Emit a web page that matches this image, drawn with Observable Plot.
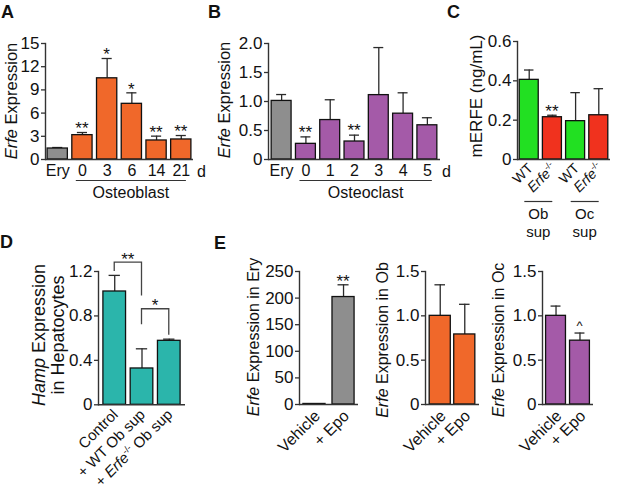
<!DOCTYPE html>
<html><head><meta charset="utf-8">
<script src="https://cdn.jsdelivr.net/npm/d3@7"></script>
<script src="https://cdn.jsdelivr.net/npm/@observablehq/plot@0.6"></script>
<style>
body{margin:0;background:#fff;}
#fig{position:relative;width:617px;height:493px;overflow:hidden;background:#fff;}
#fig svg{position:absolute;overflow:visible;}
</style></head><body><div id="fig"></div>
<script>
// ---------------- data ----------------
const panelLetters = ["A", "B", "C", "D", "E"];

const aCats = ["Ery", "0", "3", "6", "14", "21"];
const aMean = [1.42, 3.15, 10.5, 7.2, 2.46, 2.59];
const aErr  = [1.55, 3.49, 13.06, 8.62, 3.02, 3.1];
const aSig  = ["", "**", "*", "*", "**", "**"];
const aTicks = [0, 3, 6, 9, 12, 15];
const aGroup = "Osteoblast";

const bCats = ["Ery", "0", "1", "2", "3", "4", "5"];
const bMean = [1.01, 0.27, 0.68, 0.31, 1.11, 0.79, 0.59];
const bErr  = [1.12, 0.39, 1.03, 0.42, 1.93, 1.15, 0.72];
const bSig  = ["", "**", "", "**", "", "", ""];
const bTicks = [0, 0.5, 1.0, 1.5, 2.0];
const bGroup = "Osteoclast";
const dayUnit = "d";

const cGenotype = ["WT", "Erfe-/-", "WT", "Erfe-/-"];
const cSource = ["Ob", "Ob", "Oc", "Oc"];
const cMean = [0.405, 0.215, 0.195, 0.225];
const cErr  = [0.455, 0.225, 0.34, 0.36];
const cSig  = ["", "**", "", ""];
const cTicks = [0, 0.2, 0.4, 0.6];
const cSourceLabels = [["Ob", "sup"], ["Oc", "sup"]];

const dCats = ["Control", "+ WT Ob sup", "+ Erfe-/- Ob sup"];
const dMean = [1.02, 0.327, 0.576];
const dErr  = [1.165, 0.504, 0.591];
const dTicks = [0, 0.4, 0.8, 1.2];
const dBracketFrom = [0, 1];
const dBracketTo = [1, 2];
const dBracketTop = [1.28, 0.86];
const dBracketFromEnd = [1.2, 0.72];
const dBracketToEnd = [0.98, 0.625];
const dBracketSig = ["**", "*"];

const eCats = ["Vehicle", "+ Epo"];
const e1Mean = [1, 202];
const e1Err  = [1, 225];
const e1Sig  = ["", "**"];
const e1Ticks = [0, 50, 100, 150, 200, 250];
const e2Mean = [1.0, 0.79];
const e2Err  = [1.35, 1.13];
const e2Sig  = ["", ""];
const e3Mean = [1.0, 0.72];
const e3Err  = [1.11, 0.806];
const e3Sig  = ["", "^"];
const eTicks = [0, 0.5, 1.0, 1.5];

const yLabelA = "Erfe Expression";
const yLabelB = "Erfe Expression";
const yLabelC = "mERFE (ng/mL)";
const yLabelD = ["Hamp Expression", "in Hepatocytes"];
const yLabelE = ["Erfe Expression in Ery", "Erfe Expression in Ob", "Erfe Expression in Oc"];

// ---------------- styles ----------------
const FONT = '"Liberation Sans", Arial, Helvetica, sans-serif';
const GRAY = "#8e8e8e", ORANGE = "#f0682a", PURPLE = "#a45aa8",
      GREEN = "#22e022", RED = "#f0321e", TEAL = "#2bb5ab";
const INK = "#2a2a2a";
const fig = document.getElementById("fig");

const fmt1 = d => d === 0 ? "0" : d.toFixed(1);
const fmt0 = d => String(d);

function panel(cfg) {
  const mL = 45, mR = 14, mT = 14, mB = 40;
  const W = cfg.fx1 - cfg.fx0 + mL + mR;
  const H = cfg.fy1 - cfg.fy0 + mT + mB;
  const n = cfg.keys.length;
  const step = (cfg.fx1 - cfg.fx0) / (n - cfg.pi + 2 * cfg.po);
  const cap = step * (1 - cfg.pi) * 0.25;
  const rows = cfg.keys.map((k, i) => ({k, mean: cfg.mean[i], err: cfg.err[i], fill: cfg.fill[i]}));
  const marks = [
    Plot.ruleX(rows, {x: "k", y1: "mean", y2: "err", stroke: INK, strokeWidth: 1.3}),
    Plot.tickY(rows, {x: "k", y: "err", stroke: INK, strokeWidth: 1.3, insetLeft: cap, insetRight: cap}),
    Plot.barY(rows, {x: "k", y: "mean", fill: "fill", stroke: "#111", strokeWidth: 1.3}),
    Plot.axisY({ticks: cfg.ticks, tickFormat: cfg.fmt, tickSize: 4, tickPadding: 2, fontSize: 17, label: null, stroke: "#333", strokeWidth: 1.3}),
    Plot.ruleY([0], {stroke: "#333", strokeWidth: 1.4}),
    Plot.frame({anchor: "left", stroke: "#333", strokeWidth: 1.4})
  ];
  if (cfg.xTicks) marks.push(Plot.axisX({tickSize: 0, tickPadding: 5, fontSize: 16, label: null}));
  const plot = Plot.plot({
    width: W, height: H, marginLeft: mL, marginRight: mR, marginTop: mT, marginBottom: mB,
    style: {fontFamily: FONT, fontSize: "17px", background: "transparent", overflow: "visible", color: "#111"},
    x: {domain: cfg.keys, paddingInner: cfg.pi, paddingOuter: cfg.po, axis: null, round: false},
    y: {domain: cfg.yDomain, axis: null},
    color: {type: "identity"},
    marks
  });
  const left = cfg.fx0 - mL, top = cfg.fy0 - mT;
  plot.style.left = left + "px";
  plot.style.top = top + "px";
  fig.appendChild(plot);
  const xs = plot.scale("x"), ys = plot.scale("y");
  return {
    bw: xs.bandwidth,
    cx: k => left + xs.apply(k) + xs.bandwidth / 2,
    x0: k => left + xs.apply(k),
    py: v => top + ys.apply(v)
  };
}

const A = panel({keys: aCats, mean: aMean, err: aErr, fill: aCats.map((c, i) => i === 0 ? GRAY : ORANGE),
  fx0: 45, fx1: 193, fy0: 43.3, fy1: 159.3, yDomain: [0, 15], ticks: aTicks, fmt: fmt0, pi: 0.18, po: 0.085, xTicks: true});
const B = panel({keys: bCats, mean: bMean, err: bErr, fill: bCats.map((c, i) => i === 0 ? GRAY : PURPLE),
  fx0: 268, fx1: 440, fy0: 43.3, fy1: 159.3, yDomain: [0, 2], ticks: bTicks, fmt: fmt1, pi: 0.18, po: 0.13, xTicks: true});
const cKeys = cGenotype.map((g, i) => g + "|" + cSource[i]);
const C = panel({keys: cKeys, mean: cMean, err: cErr, fill: cGenotype.map(g => g === "WT" ? GREEN : RED),
  fx0: 517, fx1: 610, fy0: 41, fy1: 159, yDomain: [0, 0.6], ticks: cTicks, fmt: fmt1, pi: 0.18, po: 0.095});
const D = panel({keys: dCats, mean: dMean, err: dErr, fill: dCats.map(() => TEAL),
  fx0: 98, fx1: 185, fy0: 271, fy1: 404.3, yDomain: [0, 1.2], ticks: dTicks, fmt: fmt1, pi: 0.17, po: 0.18});
const E1 = panel({keys: eCats, mean: e1Mean, err: e1Err, fill: eCats.map(() => GRAY),
  fx0: 299, fx1: 358, fy0: 271, fy1: 404, yDomain: [0, 250], ticks: e1Ticks, fmt: fmt0, pi: 0.24, po: 0.135});
const E2 = panel({keys: eCats, mean: e2Mean, err: e2Err, fill: eCats.map(() => ORANGE),
  fx0: 425, fx1: 479, fy0: 271, fy1: 404, yDomain: [0, 1.5], ticks: eTicks, fmt: fmt1, pi: 0.14, po: 0.17});
const E3 = panel({keys: eCats, mean: e3Mean, err: e3Err, fill: eCats.map(() => PURPLE),
  fx0: 542, fx1: 593, fy0: 271, fy1: 404, yDomain: [0, 1.5], ticks: eTicks, fmt: fmt1, pi: 0.17, po: 0.15});

// ---------------- overlay text ----------------
const ov = d3.select(fig).append("svg").attr("width", 617).attr("height", 493)
  .style("left", "0px").style("top", "0px").style("font-family", FONT).attr("fill", "#111");

function parts(str) {
  const out = [], re = /(Erfe|Hamp)(-\/-)?/g;
  let last = 0, m;
  while ((m = re.exec(str))) {
    if (m.index > last) out.push({t: str.slice(last, m.index)});
    out.push({t: m[1], i: true});
    if (m[2]) out.push({t: m[2], sup: true});
    last = re.lastIndex;
  }
  if (last < str.length) out.push({t: str.slice(last)});
  return out;
}
function rich(sel, str, size) {
  let shifted = 0;
  parts(str).forEach(p => {
    const ts = sel.append("tspan").text(p.t);
    if (p.i) ts.attr("font-style", "italic");
    if (p.sup) { ts.attr("font-size", size * 0.62).attr("dy", -size * 0.4); shifted = size * 0.4; }
    else if (shifted) { ts.attr("dy", shifted); shifted = 0; }
  });
}
function text(x, y, str, size, anchor, weight) {
  const t = ov.append("text").attr("x", x).attr("y", y).attr("font-size", size)
    .attr("text-anchor", anchor || "start").style("white-space", "pre");
  if (weight) t.attr("font-weight", weight);
  rich(t, str, size);
  return t;
}
function yLabel(x, y, str, size) {
  const t = ov.append("text").attr("transform", `translate(${x},${y}) rotate(-90)`)
    .attr("font-size", size).attr("text-anchor", "middle").style("white-space", "pre");
  rich(t, str, size);
}
function xLabel(x, y, str, size) {
  const t = ov.append("text").attr("transform", `translate(${x},${y}) rotate(-45) translate(0,${0.71 * size})`)
    .attr("font-size", size).attr("text-anchor", "end").style("white-space", "pre");
  rich(t, str, size);
}
function line(x1, y1, x2, y2, w) {
  ov.append("line").attr("x1", x1).attr("y1", y1).attr("x2", x2).attr("y2", y2)
    .attr("stroke", "#333").attr("stroke-width", w || 1.3);
}
function stars(P, keys, errs, sig, size, dy) {
  keys.forEach((k, i) => { if (sig[i]) text(P.cx(k), P.py(errs[i]) + dy, sig[i], size, "middle"); });
}

// panel letters
const letterPos = [[1, 18], [208, 18], [447, 18], [0, 248], [214, 249]];
panelLetters.forEach((L, i) => text(letterPos[i][0], letterPos[i][1], L, 18, "start", "bold"));

// y labels
yLabel(17, 101, yLabelA, 16.5);
yLabel(230, 100, yLabelB, 16.5);
yLabel(482, 96, yLabelC, 17);
yLabel(45, 335, yLabelD[0], 18);
yLabel(64, 335, yLabelD[1], 18);
yLabel(258.5, 337, yLabelE[0], 16);
yLabel(388, 340, yLabelE[1], 16);
yLabel(504, 340, yLabelE[2], 16);

// A / B group labels
text(197, 176.5, dayUnit, 16);
text(442, 176.5, dayUnit, 16);
[[A, aCats, aGroup], [B, bCats, bGroup]].forEach(([P, cats, g]) => {
  const x1 = P.x0(cats[1]) + 4, x2 = P.x0(cats[cats.length - 1]) + P.bw - 5;
  line(x1, 180.5, x2, 180.5, 1.2);
  text((x1 + x2) / 2, 198, g, 16, "middle");
});
stars(A, aCats, aErr, aSig, 17, 2);
stars(B, bCats, bErr, bSig, 17, 1);

// C labels
cKeys.forEach((k, i) => xLabel(C.cx(k) - 2, 162, cGenotype[i], 14));
stars(C, cKeys, cErr, cSig, 17, 2.5);
[0, 1].forEach(j => {
  const mid = (C.cx(cKeys[2 * j]) + C.cx(cKeys[2 * j + 1])) / 2 - 2;
  line(mid - 14, 201.5, mid + 14, 201.5, 1.2);
  text(mid, 219, cSourceLabels[j][0], 15, "middle");
  text(mid, 237, cSourceLabels[j][1], 15, "middle");
});

// D labels + brackets
dCats.forEach(k => xLabel(D.cx(k) - 3, 408, k, 15));
dBracketFrom.forEach((f, i) => {
  const x1 = D.cx(dCats[f]), x2 = D.cx(dCats[dBracketTo[i]]), yt = D.py(dBracketTop[i]);
  ov.append("path").attr("d", `M${x1},${D.py(dBracketFromEnd[i])}V${yt}H${x2}V${D.py(dBracketToEnd[i])}`)
    .attr("fill", "none").attr("stroke", "#444").attr("stroke-width", 1.3);
  text((x1 + x2) / 2, yt + 2.5, dBracketSig[i], 17, "middle");
});

// E labels
[E1, E2, E3].forEach(P => eCats.forEach(k => xLabel(P.cx(k) - 1, 409, k, 16)));
stars(E1, eCats, e1Err, e1Sig, 17, 3);
stars(E3, eCats, e3Err, e3Sig, 13, -3);
</script></body></html>
